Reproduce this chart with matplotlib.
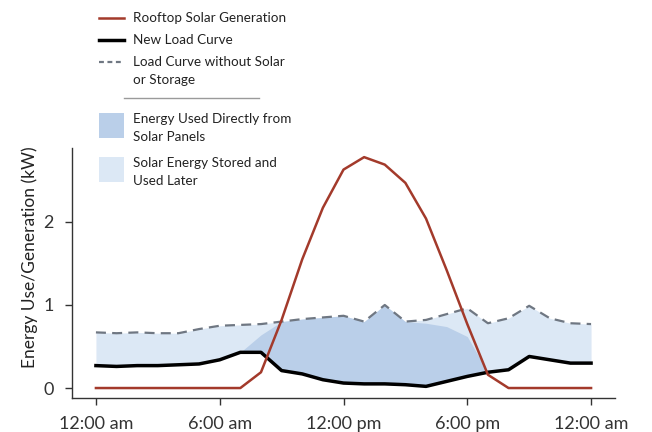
import matplotlib
matplotlib.use("Agg")
from matplotlib import pyplot as plt
from matplotlib.lines import Line2D
from matplotlib.patches import Rectangle

plt.rcParams['font.family'] = ['Lato', 'DejaVu Sans']

# hourly values (kW)
hours = list(range(25))
solar = [0, 0, 0, 0, 0, 0, 0, 0, 0.19, 0.82, 1.55, 2.17, 2.63, 2.78, 2.69,
         2.47, 2.04, 1.42, 0.77, 0.16, 0, 0, 0, 0, 0]
new_load = [0.27, 0.26, 0.27, 0.27, 0.28, 0.29, 0.34, 0.43, 0.43, 0.21, 0.17,
            0.10, 0.06, 0.05, 0.05, 0.04, 0.02, 0.08, 0.14, 0.19, 0.22, 0.38,
            0.34, 0.30, 0.30]
base_load = [0.67, 0.66, 0.67, 0.66, 0.66, 0.71, 0.75, 0.76, 0.77, 0.80, 0.83,
             0.85, 0.87, 0.80, 1.00, 0.80, 0.82, 0.89, 0.96, 0.78, 0.84, 0.99,
             0.84, 0.78, 0.77]
# upper edge of the "used directly" area
direct_top = [0.27, 0.26, 0.27, 0.27, 0.28, 0.29, 0.34, 0.43, 0.64, 0.80, 0.83,
              0.85, 0.87, 0.80, 1.00, 0.80, 0.78, 0.74, 0.62, 0.19, 0.22, 0.38,
              0.34, 0.30, 0.30]

tick_pos = [0, 6, 12, 18, 24]
tick_labels = ['12:00 am', '6:00 am', '12:00 pm', '6:00 pm', '12:00 am']

RED = '#a33a2b'
DASH = '#6f7782'
MID_BLUE = '#bacfe9'
LIGHT_BLUE = '#dce8f5'
W, H = 652, 432


def fx(x):
    return x / W


def fy(y):
    return 1 - y / H


fig = plt.figure(figsize=(6.52, 4.32), dpi=100)
ax = fig.add_axes([fx(72), fy(398), (615 - 72) / W, (398 - 148) / H])

ax.fill_between(hours, new_load, base_load, color=LIGHT_BLUE, lw=0)
ax.fill_between(hours, new_load, direct_top, color=MID_BLUE, lw=0)
ax.plot(hours, base_load, color=DASH, lw=1.6, dashes=(4.5, 2.8))
ax.plot(hours, new_load, color='black', lw=2.5, solid_joinstyle='round')
ax.plot(hours, solar, color=RED, lw=1.8)

ax.set_xlim(-1.16, 25.16)
ax.set_ylim(-0.12, 2.89)
ax.set_xticks(tick_pos)
ax.set_xticklabels(tick_labels)
ax.set_yticks([0, 1, 2])
ax.tick_params(direction='out', length=5, width=1, colors='#333333',
               labelsize=13, pad=8)
ax.tick_params(axis='y', pad=8)
for s in ['top', 'right']:
    ax.spines[s].set_visible(False)
for s in ['left', 'bottom']:
    ax.spines[s].set_color('#333333')
    ax.spines[s].set_linewidth(1)
ax.set_ylabel('Energy Use/Generation (kW)', fontsize=12.5, color='#222222')
ax.yaxis.set_label_coords(-0.063, 0.564)

# hand-built legend above the plot
leg_lines = [
    (18, RED, 1.8, None, 'Rooftop Solar Generation'),
    (40, 'black', 2.5, None, 'New Load Curve'),
    (62, DASH, 1.6, (2.2, 1.6), 'Load Curve without Solar'),
]
for y, c, lw, dash, label in leg_lines:
    ln = Line2D([fx(99), fx(124)], [fy(y), fy(y)], color=c, lw=lw,
                transform=fig.transFigure)
    if dash:
        ln.set_dashes(dash)
    fig.add_artist(ln)
    fig.text(fx(133), fy(y), label, fontsize=9.7, va='center', color='#222222')
fig.text(fx(133), fy(80), 'or Storage', fontsize=9.7, va='center',
         color='#222222')
fig.add_artist(Line2D([fx(124), fx(259)], [fy(98), fy(98)], color='#9a9a9a',
                      lw=1, transform=fig.transFigure))

leg_boxes = [
    (113, MID_BLUE, ['Energy Used Directly from', 'Solar Panels']),
    (157, LIGHT_BLUE, ['Solar Energy Stored and', 'Used Later']),
]
for y, c, rows in leg_boxes:
    fig.add_artist(Rectangle((fx(99), fy(y + 25)), 25 / W, 25 / H, color=c,
                             lw=0, transform=fig.transFigure))
    for i, row in enumerate(rows):
        fig.text(fx(133), fy(y + 6 + 18 * i), row, fontsize=9.7, va='center',
                 color='#222222')

fig.savefig('out.png', dpi=100)
